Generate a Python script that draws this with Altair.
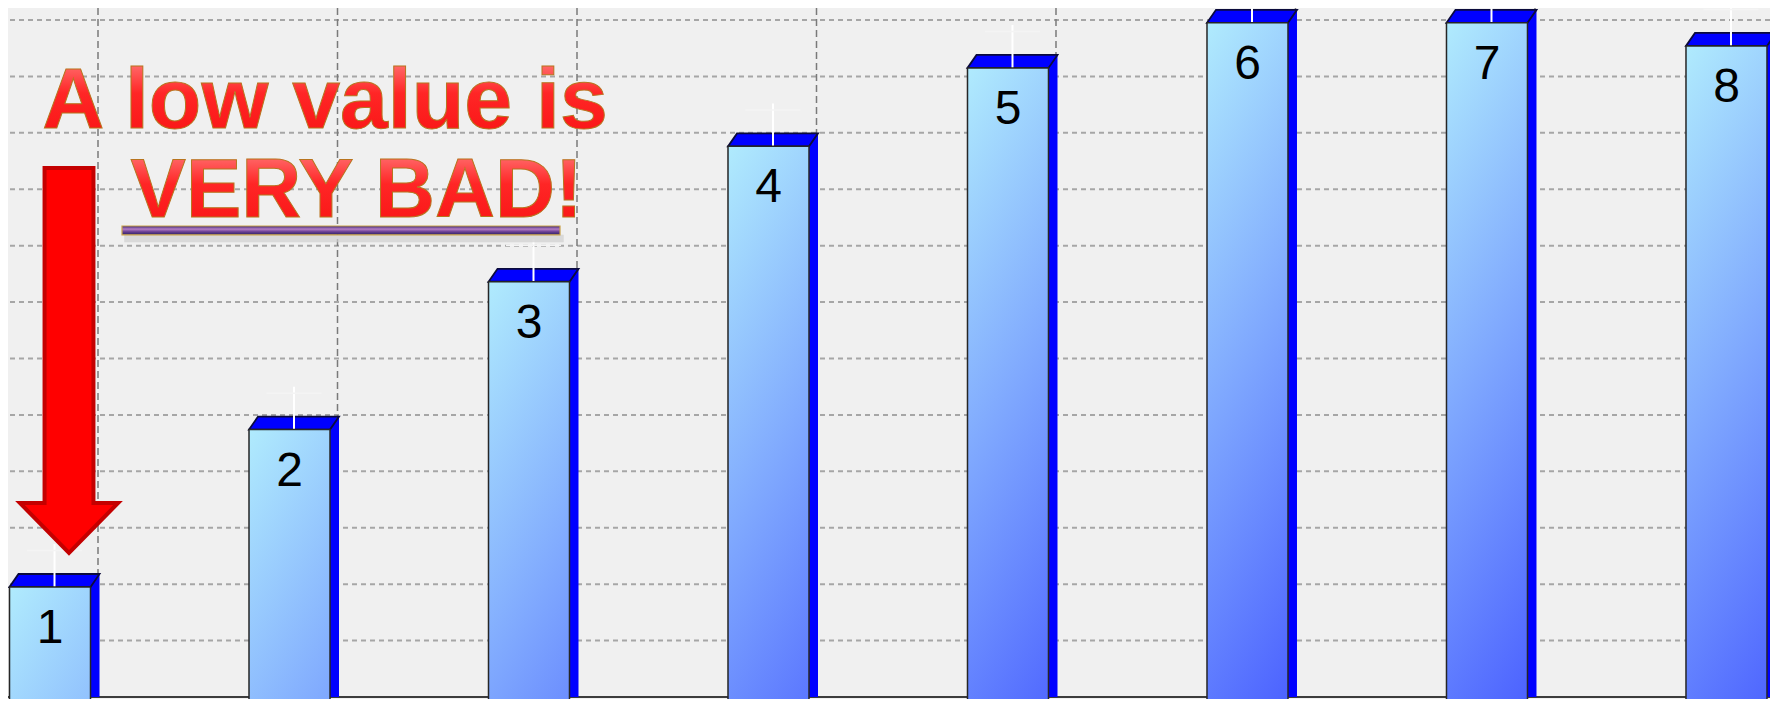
import altair as alt
import pandas as pd

# ---- data ----
labels = ["1", "2", "3", "4", "5", "6", "7", "8"]
values = [2.18, 4.97, 7.59, 9.99, 11.38, 12.18, 12.18, 11.77]
errors = [0.53, 0.53, 0.53, 0.53, 0.53, 0.53, 0.53, 0.53]
grid_levels = [1, 2, 3, 4, 5, 6, 7, 8, 9, 10, 11, 12]
base_level = [0]

SHADE_DEPTH = 16  # length of each bar's colour ramp, in value units

bars = pd.DataFrame({
    "bar": [int(s) for s in labels],
    "label": labels,
    "value": values,
    "err": errors,
})
bars["lo"] = bars["value"] - bars["err"]
bars["hi"] = bars["value"] + bars["err"]
bars["deep"] = bars["value"] - SHADE_DEPTH
grid = pd.DataFrame({"level": grid_levels})
floor_df = pd.DataFrame({"level": base_level})

# annotation anchors, in chart units
head1 = pd.DataFrame({"ax": [2.148], "ay": [10.085], "txt": ["A low value is"]})
head2 = pd.DataFrame({"ax": [2.28], "ay": [8.508], "txt": ["VERY BAD!"]})
arrow_df = pd.DataFrame({"ax": [1.0793], "ay": [5.964]})
underline_df = pd.DataFrame({"ax": [1.3006], "ax2": [3.1295], "ay": [8.348], "ay2": [8.192]})
shadow_df = pd.DataFrame({"ax": [1.31], "ax2": [3.145], "ay": [8.192], "ay2": [8.06]})

# visible window of the (cropped) chart
X_DOMAIN = [0.8246, 8.1817]
Y_DOMAIN = [-0.0354, 12.212]

xs = alt.Scale(domain=X_DOMAIN, nice=False, zero=False, padding=0)
ys = alt.Scale(domain=Y_DOMAIN, nice=False, zero=False, padding=0)
X = alt.X("bar:Q", scale=xs, axis=None)
Y = alt.Y("value:Q", scale=ys, axis=None)
AX = alt.X("ax:Q", scale=xs, axis=None)
AY = alt.Y("ay:Q", scale=ys, axis=None)

front_grad = alt.Gradient(
    gradient="linear",
    stops=[alt.GradientStop(color="#b0ebfd", offset=0),
           alt.GradientStop(color="#4b61ff", offset=0.9),
           alt.GradientStop(color="#4259ff", offset=1)],
    x1=0, y1=0, x2=0.15, y2=1,
)
text_grad = alt.Gradient(
    gradient="linear",
    stops=[alt.GradientStop(color="#ff8c8c", offset=0),
           alt.GradientStop(color="#ff2626", offset=0.45),
           alt.GradientStop(color="#f81212", offset=1)],
    x1=0, y1=0, x2=0, y2=1,
)
ul_grad = alt.Gradient(
    gradient="linear",
    stops=[alt.GradientStop(color="#3a2874", offset=0),
           alt.GradientStop(color="#b57cc4", offset=0.35),
           alt.GradientStop(color="#6a3f94", offset=0.65),
           alt.GradientStop(color="#2c2264", offset=1)],
    x1=0, y1=0, x2=0, y2=1,
)

TOP_PATH = "M -1 0.1444 L 0.8 0.1444 L 1 -0.1444 L -0.8 -0.1444 Z"
CAP_PATH = "M -1 0 L 1 0"
ARROW_PATH = ("M -0.127 -1 L 0.127 -1 L 0.127 0.74 L 0.255 0.74 L 0 1 "
              "L -0.255 0.74 L -0.127 0.74 Z")

base = alt.Chart(bars)

hgrid = alt.Chart(grid).mark_rule(
    stroke="#a6a6a6", strokeWidth=2, strokeDash=[5, 4]
).encode(y=alt.Y("level:Q", scale=ys, axis=None))

vgrid = base.mark_rule(
    stroke="#7a7a7a", strokeWidth=1.5, strokeDash=[7, 4], xOffset=48
).encode(x=X)

baseline = alt.Chart(floor_df).mark_rule(stroke="#3c3c3c", strokeWidth=2).encode(
    y=alt.Y("level:Q", scale=ys, axis=None)
)

side = base.mark_bar(width=9, xOffset=45, fill="#0000ff").encode(
    x=X, y=Y, y2=alt.value(950)
)

top = base.mark_point(
    shape=TOP_PATH, size=8100, filled=True, fill="#0000ff",
    stroke="#0b0b3c", strokeWidth=1.8, opacity=1, xOffset=4.5, yOffset=6.5
).encode(x=X, y=Y)

errbar = base.mark_rule(
    stroke="#ffffff", strokeWidth=2, xOffset=4.5, yOffset=6.5
).encode(x=X, y=alt.Y("lo:Q", scale=ys, axis=None), y2="hi:Q")

cap = base.mark_point(
    shape=CAP_PATH, size=3025, filled=False, stroke="#f4f4f4",
    strokeWidth=1.5, opacity=1, xOffset=4.5, yOffset=6.5
).encode(x=X, y=alt.Y("hi:Q", scale=ys, axis=None))

front = base.mark_bar(
    width=81, yOffset=13, fill=front_grad, stroke="#262626", strokeWidth=1.5
).encode(x=X, y=Y, y2="deep:Q")

lab = base.mark_text(
    font="Liberation Sans", fontSize=48, color="#000000",
    baseline="alphabetic", align="center", dy=69
).encode(x=X, y=Y, text="label:N")

arrow = alt.Chart(arrow_df).mark_point(
    shape=ARROW_PATH, size=148225, filled=True, fill="#ff0000",
    stroke="#c40000", strokeWidth=4, opacity=1
).encode(x=AX, y=AY)

text_style = dict(
    font="Liberation Sans", fontWeight="bold",
    fill=text_grad, stroke="#b8741e", strokeWidth=1.0,
    align="center", baseline="alphabetic",
)
t1 = alt.Chart(head1).mark_text(fontSize=86, **text_style).encode(
    x=AX, y=AY, text="txt:N")
t2 = alt.Chart(head2).mark_text(fontSize=83, **text_style).encode(
    x=AX, y=AY, text="txt:N")

ul_shadow = alt.Chart(shadow_df).mark_rect(fill="#cfcfcf", opacity=0.7).encode(
    x=AX, x2="ax2:Q", y=AY, y2="ay2:Q"
)
ul = alt.Chart(underline_df).mark_rect(
    fill=ul_grad, stroke="#c9a24a", strokeWidth=1.2
).encode(x=AX, x2="ax2:Q", y=AY, y2="ay2:Q")

chart = alt.layer(
    hgrid, vgrid, baseline, side, top, errbar, cap, front, lab,
    arrow, ul_shadow, ul, t1, t2
).properties(
    width=1762, height=691, padding=0, background="#f0f0f0",
    autosize=alt.AutoSizeParams(type="none"),
).configure_view(stroke=None)

chart.save("out.html", embed_options={"renderer": "svg", "actions": False})
